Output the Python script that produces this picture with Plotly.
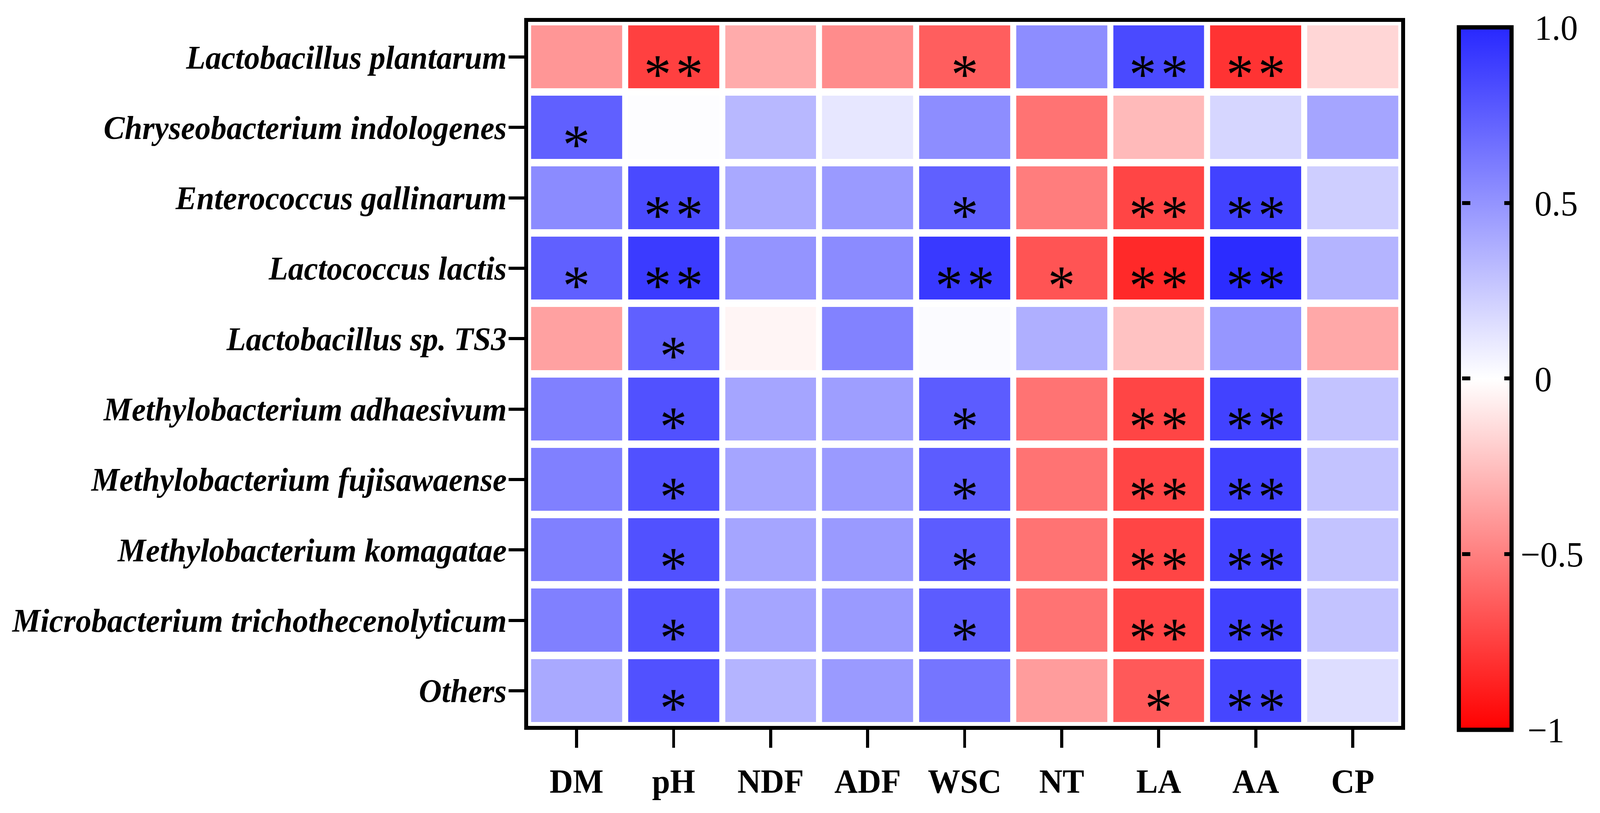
import plotly.graph_objects as go

variables = ["DM", "pH", "NDF", "ADF", "WSC", "NT", "LA", "AA", "CP"]
taxa = [
    "Lactobacillus plantarum",
    "Chryseobacterium indologenes",
    "Enterococcus gallinarum",
    "Lactococcus lactis",
    "Lactobacillus sp. TS3",
    "Methylobacterium adhaesivum",
    "Methylobacterium fujisawaense",
    "Methylobacterium komagatae",
    "Microbacterium trichothecenolyticum",
    "Others",
]

r_plantarum = [-0.41, -0.75, -0.33, -0.45, -0.63, 0.53, 0.84, -0.80, -0.16]
r_chryseo = [0.74, 0.01, 0.33, 0.11, 0.53, -0.55, -0.27, 0.19, 0.42]
r_entero = [0.54, 0.84, 0.40, 0.47, 0.74, -0.51, -0.73, 0.88, 0.23]
r_lactis = [0.74, 0.91, 0.50, 0.54, 0.92, -0.67, -0.84, 0.98, 0.35]
r_ts3 = [-0.37, 0.74, -0.04, 0.58, 0.02, 0.37, -0.24, 0.49, -0.34]
r_adhaes = [0.59, 0.81, 0.42, 0.45, 0.76, -0.55, -0.73, 0.88, 0.28]
r_fujisa = [0.59, 0.81, 0.42, 0.47, 0.76, -0.55, -0.73, 0.88, 0.28]
r_komaga = [0.59, 0.81, 0.42, 0.47, 0.76, -0.55, -0.73, 0.88, 0.28]
r_microb = [0.59, 0.81, 0.42, 0.47, 0.76, -0.55, -0.73, 0.88, 0.28]
r_others = [0.40, 0.81, 0.35, 0.47, 0.64, -0.39, -0.65, 0.86, 0.16]

s_plantarum = ["", "**", "", "", "*", "", "**", "**", ""]
s_chryseo = ["*", "", "", "", "", "", "", "", ""]
s_entero = ["", "**", "", "", "*", "", "**", "**", ""]
s_lactis = ["*", "**", "", "", "**", "*", "**", "**", ""]
s_ts3 = ["", "*", "", "", "", "", "", "", ""]
s_adhaes = ["", "*", "", "", "*", "", "**", "**", ""]
s_fujisa = ["", "*", "", "", "*", "", "**", "**", ""]
s_komaga = ["", "*", "", "", "*", "", "**", "**", ""]
s_microb = ["", "*", "", "", "*", "", "**", "**", ""]
s_others = ["", "*", "", "", "", "", "*", "**", ""]

cb_vals = [-1, -0.5, 0, 0.5, 1]
cb_text = ["\u2009\u22121", "\u22120.5", "\u2009\u20090", "\u2009\u20090.5", "\u2009\u20091.0"]
cb_inner_ticks = [-0.5, 0, 0.5]

z = [r_plantarum, r_chryseo, r_entero, r_lactis, r_ts3,
     r_adhaes, r_fujisa, r_komaga, r_microb, r_others]
sig = [s_plantarum, s_chryseo, s_entero, s_lactis, s_ts3,
       s_adhaes, s_fujisa, s_komaga, s_microb, s_others]

FONT = "Times New Roman, Liberation Serif, serif"
W, H = 4251, 2082
SCALE = [[0, "rgb(255,0,0)"], [0.5, "rgb(255,255,255)"], [1, "rgb(40,40,255)"]]
CLEAR = [[0, "rgba(0,0,0,0)"], [1, "rgba(0,0,0,0)"]]

fig = go.Figure()
fig.add_trace(go.Heatmap(
    z=z, x=variables, y=taxa,
    zmin=-1, zmax=1,
    colorscale=SCALE,
    xgap=16, ygap=19,
    colorbar=dict(
        x=1.066, xanchor="left",
        y=0.4934, yanchor="middle",
        lenmode="pixels", len=1799,
        thicknessmode="pixels", thickness=140,
        outlinewidth=11, outlinecolor="black",
        tickvals=cb_vals, ticktext=cb_text,
        ticks="inside", ticklen=24, tickwidth=10, tickcolor="black",
        tickfont=dict(family=FONT, size=92, color="black"),
        ticklabelposition="outside",
        xpad=0, ypad=0,
    ),
    hoverinfo="skip",
))

# companion colour bar (invisible) that carries the tick marks on the bar's left edge
fig.add_trace(go.Scatter(
    x=[None], y=[None], mode="markers", hoverinfo="skip", showlegend=False,
    marker=dict(
        color=[0], cmin=-1, cmax=1, colorscale=CLEAR, showscale=True,
        colorbar=dict(
            x=1.0795, xanchor="right",
            y=0.4934, yanchor="middle",
            lenmode="pixels", len=1799,
            thicknessmode="pixels", thickness=1,
            outlinewidth=0,
            tickvals=cb_inner_ticks,
            ticks="outside", ticklen=22, tickwidth=10, tickcolor="black",
            showticklabels=False,
            xpad=0, ypad=0,
        ),
    ),
))

for i, row in enumerate(sig):
    for j, s in enumerate(row):
        if s:
            fig.add_annotation(
                x=variables[j], y=taxa[i], text=s.replace("**", "*\u200a*"),
                showarrow=False, yshift=-44,
                font=dict(family=FONT, size=145, color="black"),
            )

fig.update_xaxes(
    range=[-0.5, len(variables) - 0.5],
    showline=True, linewidth=10, linecolor="black", mirror=True,
    ticks="outside", ticklen=46, tickwidth=8, tickcolor="black",
    tickfont=dict(family=FONT, size=86, color="black", weight="bold"),
    ticklabelstandoff=12,
    showgrid=False, zeroline=False, automargin=False,
)
fig.update_yaxes(
    range=[len(taxa) - 0.5, -0.5],
    showline=True, linewidth=10, linecolor="black", mirror=True,
    ticks="outside", ticklen=42, tickwidth=8, tickcolor="black",
    tickfont=dict(family=FONT, size=84, color="black", weight="bold", style="italic"),
    ticklabelstandoff=-12,
    showgrid=False, zeroline=False, automargin=False,
)

fig.update_layout(
    width=W, height=H,
    margin=dict(l=1403, r=528, t=56, b=223, autoexpand=False),
    plot_bgcolor="white", paper_bgcolor="white",
    showlegend=False,
)

# the browser viewport can be narrower than the figure; scale the page to fit it
fit_script = """
document.documentElement.style.margin='0';
document.body.style.margin='0';
document.body.style.overflow='hidden';
var gd = document.getElementById('{plot_id}');
var sx = Math.min(1, window.innerWidth / %d), sy = Math.min(1, window.innerHeight / %d);
gd.style.transformOrigin = '0 0';
gd.style.transform = 'scale(' + sx + ',' + sy + ')';
""" % (W, H)

fig.write_html("out.html", post_script=fit_script, config={"displayModeBar": False})
